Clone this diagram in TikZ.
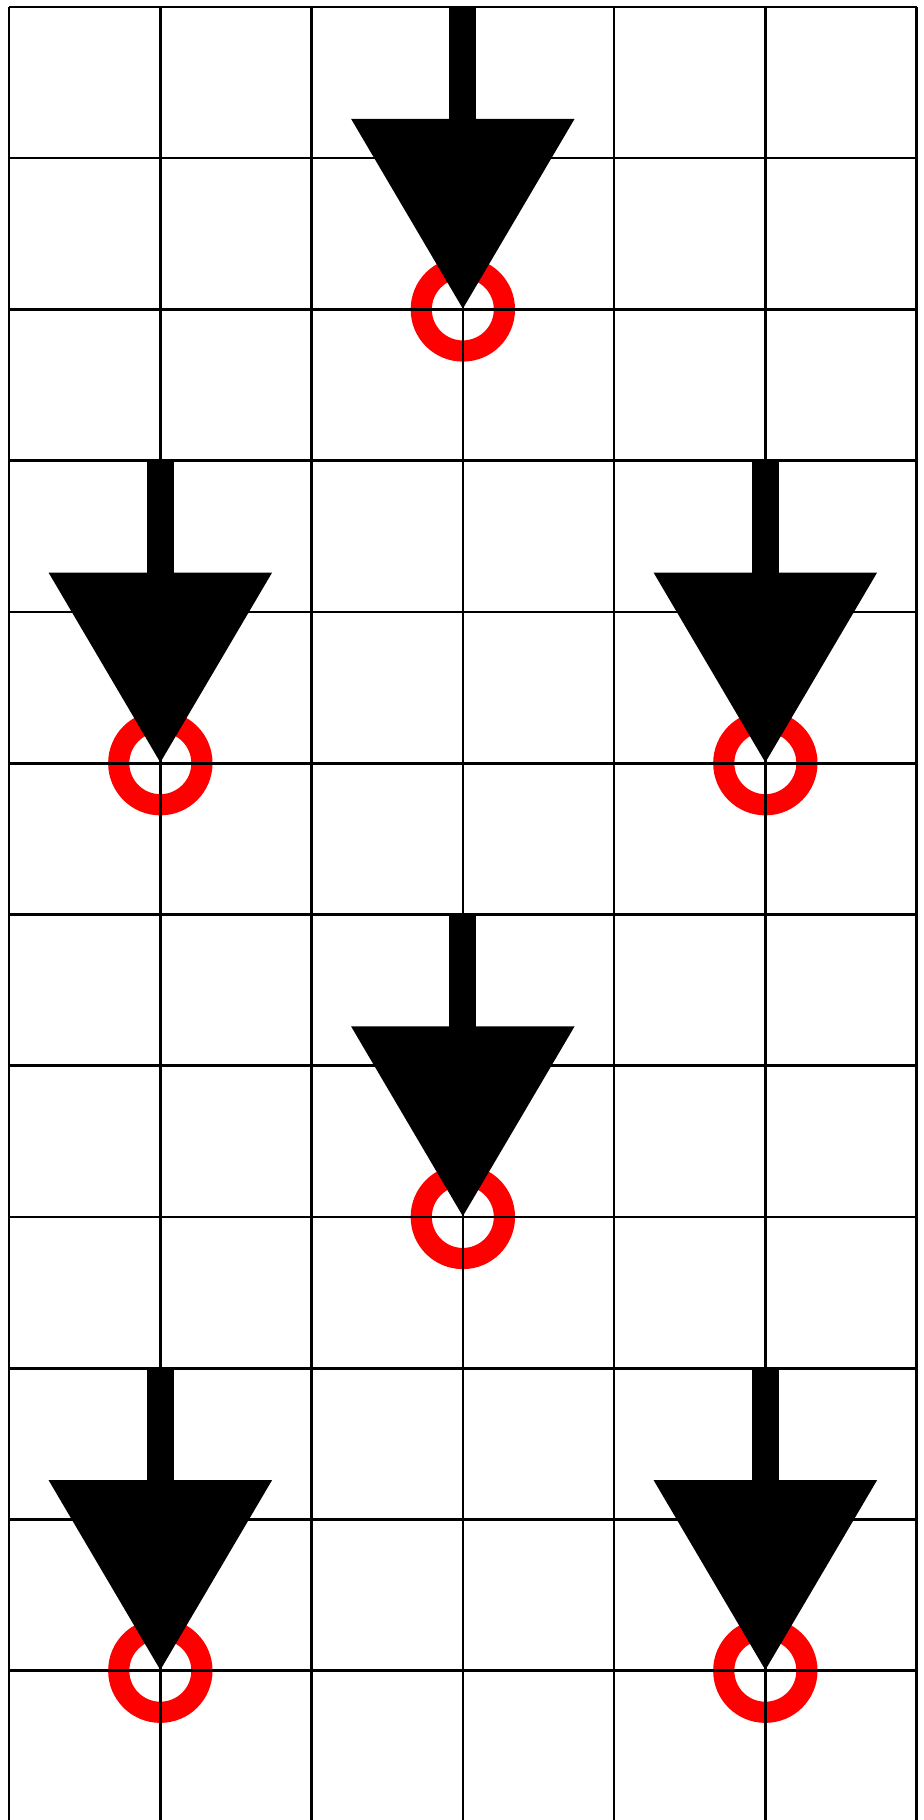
\documentclass[tikz,border=0pt]{standalone}
\usepackage{tikz}
\usetikzlibrary{arrows.meta}

\begin{document}
\begin{tikzpicture}[
    ring/.style={draw=red, line width=0.14cm},
    arr/.style={-{Triangle[length=12.6mm, width=14.3mm]}, line width=0.18cm}
  ]
  \useasboundingbox (-0.06, 0.013) rectangle (6.043, 12.046);
  % target rings
  \foreach \i/\x/\y in {1/3/10, 2/1/7, 3/5/7, 4/3/4, 5/1/1, 6/5/1} {
    \coordinate (t\i) at (\x, \y);
    \coordinate (s\i) at (\x, \y+2);
    \draw[ring] (t\i) circle (0.275);
  }
  % grid
  \draw[line width=0.5pt] (0,0) grid (6,12);
  % arrows
  \foreach \i in {1,...,6} {
    \draw[arr] (s\i) -- (t\i);
  }
\end{tikzpicture}
\end{document}
